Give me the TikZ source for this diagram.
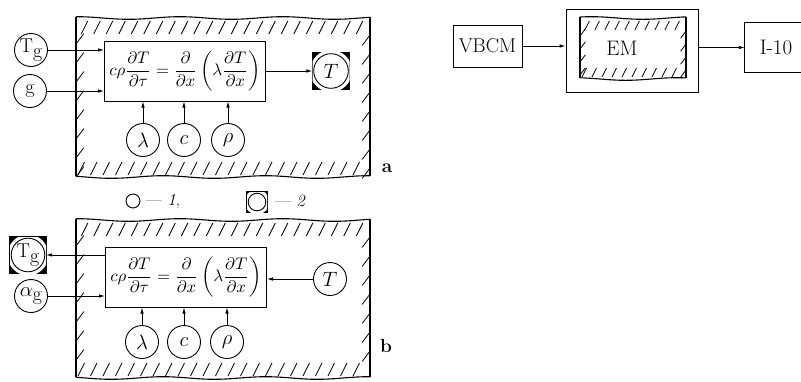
\documentclass[tikz,border=0pt]{standalone}
\usepackage{graphicx}
\usetikzlibrary{arrows.meta}
\tikzset{
  frm/.style={line width=1.1pt, line join=round},
  htc/.style={line width=0.8pt},
  inc/.style={circle, draw, line width=0.9pt, minimum size=33pt, inner sep=0pt, font=\fontsize{20}{22}\selectfont},
  eqbox/.style={rectangle, draw, line width=1pt, minimum width=161pt, minimum height=60pt, inner sep=0pt},
  rbox/.style={rectangle, draw, line width=1pt, inner sep=0pt, font=\fontsize{20}{24}\selectfont},
  sqc/.style={rectangle, minimum size=#1, inner sep=0pt, font=\fontsize{20}{22}\selectfont,
    path picture={
      \fill[black] (path picture bounding box.south west) rectangle (path picture bounding box.north east);
      \fill[white] (path picture bounding box.center) circle ({0.5*#1+2.5pt});
      \draw[line width=0.9pt] (path picture bounding box.center) circle ({0.5*#1-1.2pt});
    }, append after command={\pgfextra{\draw[line width=1pt] (\tikzlastnode.south west) rectangle (\tikzlastnode.north east);}}},
  arr/.style={-{Latex[length=6pt,width=3.5pt]}, line width=0.8pt},
  lbl/.style={font=\fontsize{19}{21}\selectfont\bfseries, inner sep=0pt},
}
% hatched frame: #1 L, #2 T, #3 R, #4 B, #5 top step, #6 side step, #7 stroke length
\newcommand\hatchframe[7]{%
  \draw[frm] plot[domain=#1:#3, samples=90, smooth] (\x, {#2+1.3*sin(3.5*\x)});
  \draw[frm] plot[domain=#1:#3, samples=90, smooth] (\x, {#4+1.3*sin(3.5*\x+60)});
  \draw[frm] (#1,{#2+1.3*sin(3.5*#1)}) -- (#1,{#4+1.3*sin(3.5*#1+60)});
  \draw[frm] (#3,{#2+1.3*sin(3.5*#3)}) -- (#3,{#4+1.3*sin(3.5*#3+60)});
  \pgfmathtruncatemacro\hfnx{(#3-#1-10)/#5}
  \pgfmathtruncatemacro\hfny{(#4-#2-2*#7)/#6}
  \foreach \i in {0,...,\hfnx} {
    \draw[htc] ({#1+#7*0.6+4+\i*#5},{#2+3}) -- ++({-0.5*#7},#7);
    \draw[htc] ({#1+2+\i*#5},{#4-2}) -- ++({0.5*#7},{-#7});
  }
  \foreach \i in {0,...,\hfny} {
    \draw[htc] (#1,{#2+#7+#7+\i*#6}) -- ++({0.6*#7},{-0.8*#7});
    \draw[htc] (#3,{#2+#7+4+\i*#6}) -- ++({-0.6*#7},{0.8*#7});
  }
}
\newcommand\heqn{\scalebox{1.68}{$\displaystyle c\rho\frac{\partial T}{\partial\tau}=\frac{\partial}{\partial x}\left(\lambda\frac{\partial T}{\partial x}\right)$}}
\newcommand\tgtext{T\raisebox{-5pt}{g}}
\begin{document}
\begin{tikzpicture}[x=1pt,y=-1pt]
\useasboundingbox (0,0) rectangle (801,381);

% ---------- panel a ----------
\hatchframe{76}{18}{370}{177}{12.5}{19}{13}
\node[eqbox] (eqa) at (185,71) {\heqn};
\node[inc] (Tga) at (31,50) {\tgtext};
\node[inc] (ga) at (30,91) {g};
\node[sqc=37pt] (Ta) at (331,71) {$T$};
\node[inc] (lama) at (143,140) {$\lambda$};
\node[inc] (ca) at (184,140) {$c$};
\node[inc] (rhoa) at (228,140) {$\rho$};
\draw[arr] (Tga.east) -- (Tga.east -| eqa.west);
\draw[arr] (ga.east) -- (ga.east -| eqa.west);
\draw[arr] (eqa.east) -- (Ta.west);
\draw[arr] (lama.north) -- (lama.north |- eqa.south);
\draw[arr] (ca.north) -- (ca.north |- eqa.south);
\draw[arr] (rhoa.north) -- (rhoa.north |- eqa.south);
\node[lbl] (la) at (387,168) {a};

% ---------- legend ----------
\node[circle, draw, line width=0.9pt, minimum size=14pt, inner sep=0pt] (lgc) at (133,201) {};
\node[font=\fontsize{17}{19}\selectfont, anchor=west, inner sep=0pt] (lg1) at (146,201) {---\,\,\textit{1},};
\node[sqc=20pt] (lgs) at (257,202) {};
\node[font=\fontsize{17}{19}\selectfont, anchor=west, inner sep=0pt] (lg2) at (275,201) {---\,\,\textit{2}};

% ---------- panel b ----------
\hatchframe{76}{220}{370}{378}{12.5}{19}{13}
\node[eqbox] (eqb) at (186,277) {\heqn};
\node[sqc=36pt] (Tgb) at (28,255) {\tgtext};
\node[inc] (agb) at (31,296) {$\alpha$\raisebox{-4pt}{g}};
\node[inc] (Tb) at (330,279) {$T$};
\node[inc] (lamb) at (142,342) {$\lambda$};
\node[inc] (cb) at (184,342) {$c$};
\node[inc] (rhob) at (227,342) {$\rho$};
\draw[arr] (Tgb.east -| eqb.west) -- (Tgb.east);
\draw[arr] (agb.east) -- (agb.east -| eqb.west);
\draw[arr] (Tb.west) -- (Tb.west -| eqb.east);
\draw[arr] (lamb.north) -- (lamb.north |- eqb.south);
\draw[arr] (cb.north) -- (cb.north |- eqb.south);
\draw[arr] (rhob.north) -- (rhob.north |- eqb.south);
\node[lbl] (lb) at (386,346) {b};

% ---------- right panel ----------
\node[rbox, minimum width=69pt, minimum height=42pt] (vbcm) at (487.5,46) {VBCM};
\node[rbox, minimum width=132pt, minimum height=83pt] (emo) at (632,50.5) {};
\hatchframe{580}{18}{686}{79}{10}{13}{9}
\node[font=\fontsize{21}{24}\selectfont, inner sep=0pt] (em) at (622,48) {EM};
\node[font=\fontsize{21}{24}\selectfont, minimum width=56pt, minimum height=49pt, inner sep=0pt] (io) at (773,47.5) {\hspace{6pt}I-10};
\draw[line width=1pt] (io.north east) -- (io.north west) -- (io.south west) -- (io.south east);
\draw[arr] (vbcm.east) -- (vbcm.east -| emo.west);
\draw[arr] (emo.east |- io.west) -- (io.west);
\end{tikzpicture}
\end{document}
